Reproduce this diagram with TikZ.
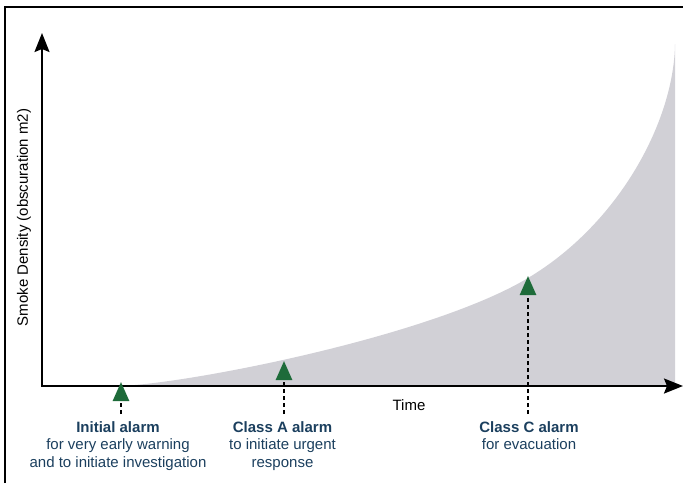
\documentclass[tikz,border=0pt]{standalone}
\usepackage{fontspec}
\setmainfont{Liberation Sans}
\usetikzlibrary{arrows.meta}
\definecolor{areagray}{HTML}{D1D0D6}
\definecolor{navy}{HTML}{1B3F5E}
\definecolor{alarmgreen}{HTML}{1E6B3A}
\tikzset{
  axisline/.style={line width=2pt,-{Stealth[length=19pt,width=15pt,inset=3pt]}},
  frameline/.style={line width=2.5pt},
  alarmlbl/.style={anchor=north,align=center,inner sep=0pt,text=navy,
    font=\fontsize{15}{17.6}\selectfont},
  axislbl/.style={inner sep=0pt,font=\fontsize{15}{17.6}\selectfont},
  alarmarrow/.style={line width=2.6pt,dash pattern=on 4pt off 3pt,
    -{Triangle[length=19pt,width=16pt,color=alarmgreen,fill=alarmgreen]}}
}
\begin{document}
\begin{tikzpicture}[x=1pt,y=-1pt]
\useasboundingbox (0,0) rectangle (683,483);
% frame (top and left sides)
\draw[frameline] (5,483) -- (5,7) -- (683,7);
% shaded area
\fill[areagray] (116,386) .. controls (176,386) and (428,338) .. (528,278)
  .. controls (620,223) and (674,120) .. (675,44) -- (675,386) -- cycle;
% axes
\coordinate (origin) at (42,386);
\coordinate (ytop) at (42,33);
\coordinate (xend) at (683,386);
\draw[axisline] ([yshift=1pt]origin) -- (ytop);
\draw[axisline] ([xshift=-1pt]origin) -- (xend);
% axis labels
\node[axislbl,rotate=90] (ylbl) at (24,217.5) {Smoke Density (obscuration m2)};
\node[axislbl] (xlbl) at (409,405) {Time};
% alarm labels
\node[alarmlbl] (lblI) at (118,421) {\textbf{Initial alarm}\\for very early warning\\and to initiate investigation};
\node[alarmlbl] (lblA) at (282.5,421) {\textbf{Class A alarm}\\to initiate urgent\\response};
\node[alarmlbl] (lblC) at (529,421) {\textbf{Class C alarm}\\for evacuation};
% alarm arrow tips
\coordinate (tipI) at (121,382);
\coordinate (tipA) at (284,361);
\coordinate (tipC) at (528,276);
\draw[alarmarrow] ([yshift=7pt]lblI.north -| tipI) -- (tipI);
\draw[alarmarrow] ([yshift=7pt]lblA.north -| tipA) -- (tipA);
\draw[alarmarrow] ([yshift=7pt]lblC.north -| tipC) -- (tipC);
\end{tikzpicture}
\end{document}
